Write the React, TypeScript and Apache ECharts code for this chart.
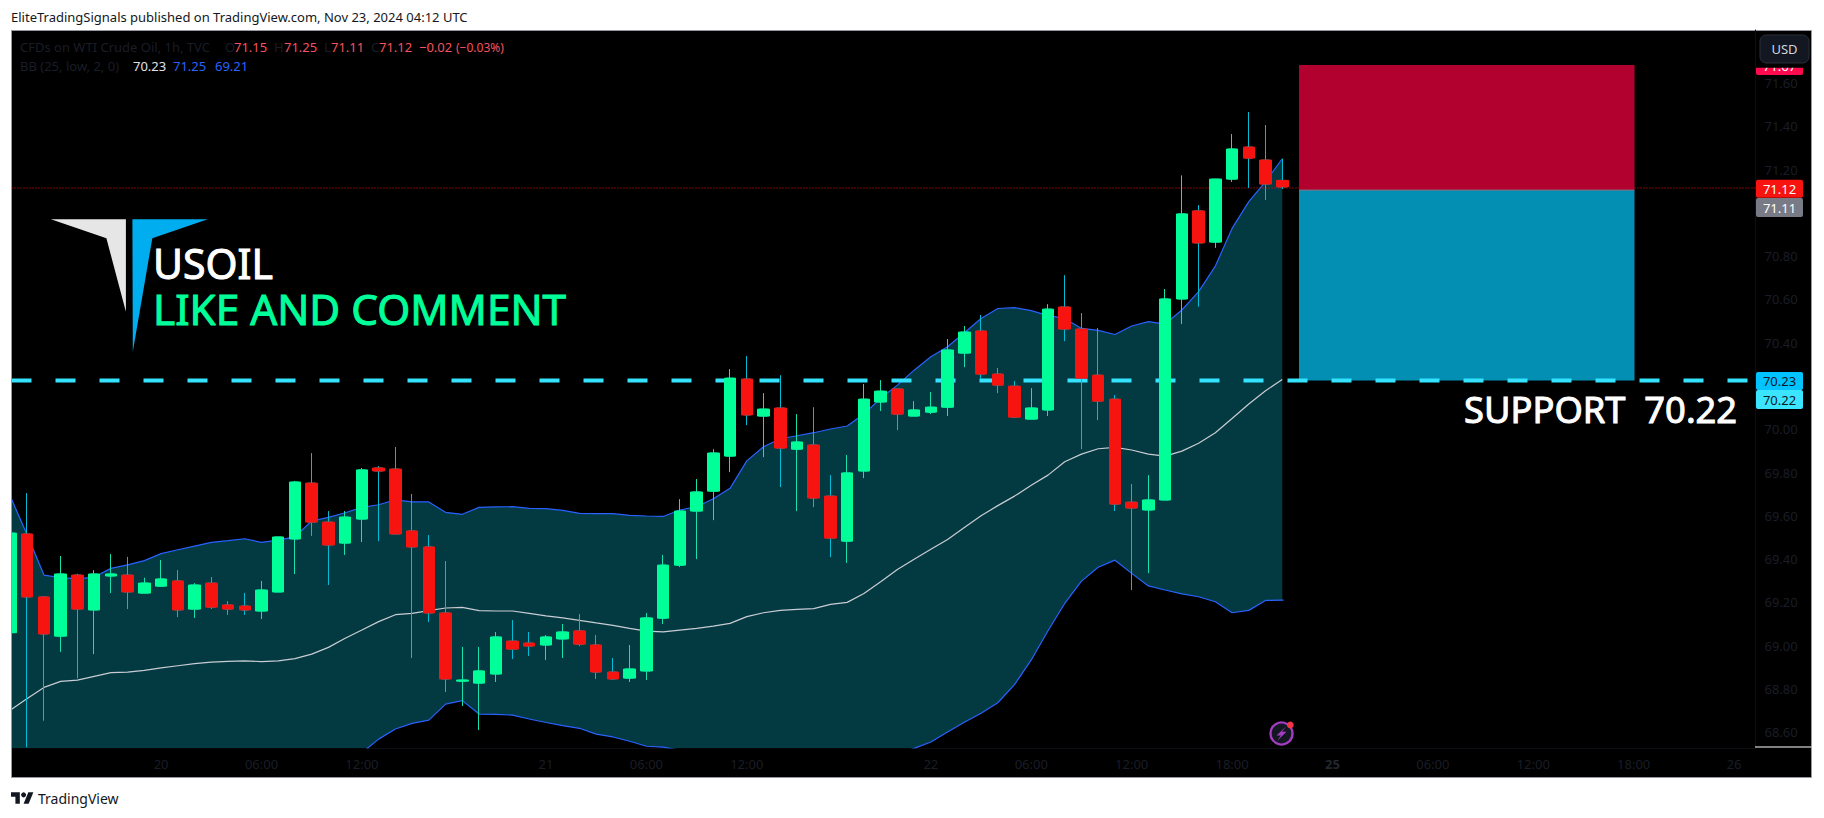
import React, { useEffect, useRef } from "react";
import * as echarts from "echarts";

const opens = [69.06,69.516,69.225,69.044,69.326,69.165,69.322,69.326,69.243,69.275,69.299,69.169,69.289,69.188,69.183,69.16,69.248,69.493,69.751,69.571,69.474,69.585,69.821,69.816,69.53,69.456,69.151,68.836,68.827,68.869,69.021,69.012,69.003,69.031,69.068,69.003,68.878,68.85,68.883,69.127,69.372,69.622,69.714,69.876,70.232,70.061,70.098,69.908,69.927,69.691,69.483,69.807,70.126,70.186,70.061,70.079,70.102,70.352,70.454,70.255,70.199,70.047,70.089,70.565,70.463,70.25,70.139,69.663,69.627,69.673,70.602,71.009,70.865,71.156,71.304,71.244,71.15];
const highs = [69.55,69.705,69.229,69.414,69.332,69.349,69.423,69.41,69.314,69.396,69.349,69.289,69.317,69.206,69.243,69.299,69.502,69.761,69.89,69.622,69.622,69.821,69.83,69.918,69.701,69.511,69.391,68.994,68.994,69.063,69.118,69.063,69.049,69.1,69.146,69.049,68.943,69.003,69.151,69.419,69.677,69.77,69.908,70.278,70.338,70.167,70.25,70.07,70.102,69.788,69.881,70.209,70.227,70.186,70.13,70.172,70.417,70.477,70.528,70.283,70.223,70.19,70.578,70.712,70.537,70.468,70.158,69.747,69.788,70.648,71.173,71.036,71.156,71.364,71.466,71.406,71.25];
const lows = [68.98,68.53,68.653,68.971,68.849,68.961,69.243,69.169,69.243,69.275,69.132,69.128,69.169,69.142,69.142,69.123,69.248,69.331,69.507,69.28,69.419,69.479,69.483,69.516,68.943,69.109,68.786,68.721,68.61,68.832,68.938,68.952,68.934,68.943,68.998,68.846,68.841,68.832,68.841,69.1,69.363,69.4,69.58,69.802,70.019,69.871,69.733,69.622,69.64,69.409,69.382,69.774,70.084,69.996,70.061,70.07,70.061,70.287,70.232,70.167,70.052,70.047,70.061,70.407,69.908,70.042,69.622,69.257,69.335,69.673,70.486,70.566,70.838,71.143,71.115,71.059,71.11];
const closes = [69.52,69.225,69.054,69.331,69.169,69.331,69.331,69.248,69.289,69.308,69.165,69.28,69.178,69.169,69.165,69.257,69.502,69.756,69.571,69.465,69.594,69.812,69.807,69.516,69.456,69.151,68.846,68.841,68.883,69.04,68.984,68.998,69.04,69.063,69.007,68.878,68.846,68.892,69.128,69.372,69.622,69.71,69.89,70.236,70.066,70.093,69.913,69.941,69.682,69.497,69.798,70.139,70.176,70.07,70.089,70.102,70.366,70.449,70.255,70.204,70.056,70.098,70.555,70.463,70.236,70.13,69.654,69.636,69.673,70.602,70.995,70.861,71.156,71.295,71.253,71.133,71.12];

const bbUpper = [69.688,69.511,69.326,69.314,69.309,69.317,69.357,69.373,69.393,69.425,69.443,69.46,69.477,69.485,69.494,69.477,69.488,69.503,69.576,69.593,69.614,69.639,69.651,69.674,69.664,69.664,69.616,69.607,69.639,69.641,69.642,69.634,69.633,69.625,69.611,69.61,69.61,69.602,69.599,69.597,69.627,69.642,69.679,69.727,69.854,69.919,69.956,69.97,69.984,70.001,70.015,70.07,70.143,70.204,70.273,70.335,70.381,70.446,70.512,70.558,70.562,70.548,70.525,70.512,70.466,70.457,70.438,70.477,70.497,70.486,70.551,70.636,70.754,70.928,71.052,71.144,71.25];
const bbMid = [68.703,68.756,68.807,68.835,68.841,68.858,68.875,68.878,68.886,68.897,68.907,68.917,68.924,68.927,68.93,68.926,68.93,68.94,68.961,68.992,69.034,69.072,69.111,69.143,69.149,69.162,69.174,69.177,69.162,69.16,69.16,69.149,69.138,69.128,69.117,69.105,69.094,69.08,69.067,69.064,69.072,69.08,69.09,69.103,69.134,69.152,69.163,69.168,69.171,69.191,69.2,69.241,69.295,69.352,69.399,69.445,69.491,69.546,69.6,69.647,69.691,69.741,69.788,69.85,69.885,69.91,69.916,69.904,69.885,69.876,69.899,69.935,69.984,70.05,70.117,70.178,70.23];
const bbLower = [67.72,68.0,68.29,68.36,68.37,68.4,68.39,68.38,68.38,68.37,68.37,68.37,68.37,68.37,68.37,68.37,68.37,68.38,68.35,68.39,68.45,68.505,68.568,68.615,68.641,68.656,68.73,68.746,68.684,68.682,68.679,68.661,68.645,68.63,68.618,68.591,68.578,68.558,68.535,68.531,68.517,68.518,68.501,68.479,68.414,68.385,68.37,68.366,68.358,68.381,68.385,68.412,68.447,68.5,68.525,68.555,68.601,68.646,68.688,68.736,68.82,68.934,69.069,69.195,69.298,69.362,69.395,69.334,69.276,69.257,69.239,69.226,69.203,69.152,69.163,69.209,69.21];

const priceTicks = [68.6,68.8,69.0,69.2,69.4,69.6,69.8,70.0,70.4,70.6,70.8,71.2,71.4,71.6];
const timeTicks = [9,15,21,32,38,44,55,61,67,73,79,85,91,97,103];
const timeLabels = ["20","06:00","12:00","21","06:00","12:00","22","06:00","12:00","18:00","25","06:00","12:00","18:00","26"];

const supportPrice = 70.225;
const lastPrice = 71.115;
const positionZones = [
  [77, 97.05, 71.683, 71.105],
  [77, 97.05, 71.105, 70.225],
];

const FONT = "'Noto Sans', sans-serif";
const DIM = "#1a1d27";
const GREEN = "#00FF99";
const RED = "#F7130F";
const XMIN = 0.06;
const XMAX = 104.28;

const tag = (y0: number, h: number, fill: string, text: string, color: string) => [
  { type: "rect", z: 50, shape: { x: 1756, y: y0, width: 47, height: h, r: 2 }, style: { fill } },
  { type: "text", z: 51, style: { text, x: 1779.5, y: y0 + h / 2, fill: color, fontSize: 13, fontFamily: FONT, textAlign: "center", verticalAlign: "middle" } },
];

const txt = (x: number, y: number, text: string, fill: string, fontSize = 13) => ({
  type: "text",
  z: 50,
  style: { text, x, y, fill, fontSize, fontFamily: FONT, textAlign: "left", verticalAlign: "middle" },
});

const heavy = (x: number, y: number, text: string, fill: string, fontSize: number) => ({
  type: "text",
  z: 50,
  style: { text, x, y, fill, fontSize, fontFamily: FONT, textAlign: "left", verticalAlign: "middle", lineHeight: 36, stroke: fill, lineWidth: 1 },
});

export default function App() {
  const ref = useRef<HTMLDivElement>(null);
  useEffect(() => {
    const chart = echarts.init(ref.current!, undefined, { renderer: "svg" });
    const idx = opens.map((_, i) => i);
    const last = idx.length - 1;
    const option: any = {
      animation: false,
      backgroundColor: "#ffffff",
      grid: { left: 11.5, top: 30, width: 1744, height: 718, containLabel: false },
      xAxis: {
        type: "value",
        min: XMIN,
        max: XMAX,
        splitLine: { show: false },
        axisTick: { show: false },
        axisLine: { show: true, onZero: false, lineStyle: { color: "#0d0f14", width: 1 } },
        axisLabel: {
          customValues: timeTicks,
          margin: 9,
          fontSize: 13,
          fontFamily: FONT,
          color: DIM,
          hideOverlap: false,
          formatter: (v: number) => {
            const l = timeLabels[timeTicks.indexOf(v)] ?? "";
            return l === "25" ? `{b|${l}}` : l;
          },
          rich: { b: { fontWeight: "bold", fontSize: 13, fontFamily: FONT, color: "#23262f" } },
        },
      },
      yAxis: {
        type: "value",
        position: "right",
        min: 68.527,
        max: 71.845,
        splitLine: { show: false },
        axisTick: { show: false },
        axisLine: { show: true, onZero: false, lineStyle: { color: "#0d0f14", width: 1 } },
        axisLabel: {
          customValues: priceTicks,
          margin: 9,
          fontSize: 13,
          fontFamily: FONT,
          color: DIM,
          formatter: (v: number) => v.toFixed(2),
        },
      },
      series: [
        {
          name: "BB Upper", type: "line", z: 2, symbol: "none", silent: true,
          data: idx.map((i) => [i, bbUpper[i]]),
          lineStyle: { color: "#2962FF", width: 1.2 },
          areaStyle: { color: "#033A42", opacity: 1, origin: "start" },
        },
        {
          name: "BB Lower", type: "line", z: 3, symbol: "none", silent: true,
          data: [...idx.map((i) => [i, bbLower[i]]), [last + 0.08, bbLower[last]]],
          lineStyle: { color: "#2962FF", width: 1.2 },
          areaStyle: { color: "#000000", opacity: 1, origin: "start" },
        },
        {
          name: "BB Basis", type: "line", z: 4, symbol: "none", silent: true,
          data: idx.map((i) => [i, bbMid[i]]),
          lineStyle: { color: "#C9CCD3", width: 1.2 },
        },
        {
          name: "Last price", type: "line", z: 5, symbol: "none", silent: true,
          data: [[XMIN, lastPrice], [XMAX, lastPrice]],
          lineStyle: { color: "#F7130F", width: 1, type: [1, 2] },
        },
        {
          name: "Position", type: "custom", z: 6, silent: true,
          clip: true,
          data: positionZones,
          encode: { x: [0, 1], y: [2, 3] },
          renderItem: (params: any, api: any) => {
            const a = api.coord([api.value(0), api.value(2)]);
            const b = api.coord([api.value(1), api.value(3)]);
            const isTarget = params.dataIndex === 0;
            return {
              type: "rect",
              shape: { x: a[0], y: a[1], width: b[0] - a[0], height: b[1] - a[1] },
              style: { fill: isTarget ? "#B2002F" : "#028FB3" },
            };
          },
        },
        {
          name: "Entry", type: "line", z: 7, symbol: "none", silent: true,
          data: [[positionZones[1][0], positionZones[1][2]], [positionZones[1][1], positionZones[1][2]]],
          lineStyle: { color: "#7b8794", width: 1 },
        },
        {
          name: "Support", type: "line", z: 7, symbol: "none", silent: true,
          data: [[XMIN, supportPrice], [XMAX, supportPrice]],
          lineStyle: { color: "#33E3FF", width: 4, type: [20, 24] },
        },
        {
          name: "Wicks", type: "candlestick", z: 8, silent: true, barWidth: 8,
          data: idx.map((i) => [i, opens[i], closes[i], lows[i], highs[i]]),
          itemStyle: { color: "#14E0B0", color0: "#00BCD4", borderColor: "#14E0B0", borderColor0: "#00BCD4", borderWidth: 1 },
        },
        {
          name: "CFDs on WTI Crude Oil", type: "candlestick", z: 9, silent: true, barWidth: 12,
          data: idx.map((i) => [i, opens[i], closes[i], Math.min(opens[i], closes[i]), Math.max(opens[i], closes[i])]),
          itemStyle: { color: GREEN, color0: RED, borderColor: GREEN, borderColor0: RED, borderWidth: 1 },
        },
      ],
      graphic: [
        // page frame
        { type: "rect", z: -5, shape: { x: 11.5, y: 30.5, width: 1800, height: 747 }, style: { fill: "#000", stroke: "#9598A1", lineWidth: 1 } },
        // the first candle is cut by the chart's left edge
        { type: "rect", z: 45, shape: { x: 0, y: 30, width: 11, height: 748 }, style: { fill: "#FFFFFF" } },
        { type: "line", z: 46, shape: { x1: 11.5, y1: 30, x2: 11.5, y2: 778 }, style: { stroke: "#9598A1", lineWidth: 1 } },
        txt(11, 17, "EliteTradingSignals published on TradingView.com, Nov 23, 2024 04:12 UTC", "#131722", 13),
        // footer logo
        { type: "group", z: 50, x: 11, y: 789.8, scaleX: 0.63, scaleY: 0.63, children: [
          { type: "polygon", z: 50, shape: { points: [[14,22],[7,22],[7,11],[0,11],[0,4],[14,4]] }, style: { fill: "#131722" } },
          { type: "polygon", z: 50, shape: { points: [[28,22],[20,22],[27.5,4],[35.5,4]] }, style: { fill: "#131722" } },
          { type: "circle", z: 50, shape: { cx: 20, cy: 8, r: 4 }, style: { fill: "#131722" } },
        ] },
        txt(38, 798.5, "TradingView", "#131722", 14),
        // legend
        txt(20, 47, "CFDs on WTI Crude Oil, 1h, TVC", DIM),
        txt(225, 47, "O", DIM), txt(234, 47, "71.15", "#F7525F"),
        txt(274, 47, "H", DIM), txt(284, 47, "71.25", "#F7525F"),
        txt(324, 47, "L", DIM), txt(331, 47, "71.11", "#F7525F"),
        txt(371, 47, "C", DIM), txt(379, 47, "71.12", "#F7525F"),
        txt(419, 47, "−0.02", "#F7525F"), txt(456, 47, "(−0.03%)", "#F7525F", 12),
        txt(20, 66, "BB (25, low, 2, 0)", DIM),
        txt(133, 66, "70.23", "#E0E3EB"), txt(173, 66, "71.25", "#2962FF"), txt(215, 66, "69.21", "#2962FF"),
        // brand mark
        { type: "polygon", z: 40, shape: { points: [[50.9,219.3],[125.9,219.3],[125.9,311.7],[106.4,238.3]] }, style: { fill: "#E6E6E6" } },
        { type: "polygon", z: 40, shape: { points: [[132.4,219.3],[207.8,219.3],[152.3,238.3],[132.8,351.7]] }, style: { fill: "#00AEEF" } },
        heavy(153, 263, "USOIL", "#FFFFFF", 41),
        heavy(153, 308, "LIKE AND COMMENT", "#00FF99", 42.3),
        heavy(1464, 409, "SUPPORT  70.22", "#FFFFFF", 36.3),
        // price scale overlays
        ...tag(56, 19, "#FF0A4E", "71.67", "#FFFFFF"),
        { type: "rect", z: 52, shape: { x: 1756, y: 47, width: 55, height: 20.7 }, style: { fill: "#000" } },
        { type: "rect", z: 53, shape: { x: 1760, y: 35, width: 49, height: 28, r: 6 }, style: { fill: "#131722", stroke: "#2A2E39", lineWidth: 1 } },
        { type: "text", z: 54, style: { text: "USD", x: 1784.5, y: 49, fill: "#D1D4DC", fontSize: 13, fontFamily: FONT, textAlign: "center", verticalAlign: "middle" } },
        ...tag(179.7, 18, RED, "71.12", "#FFFFFF"),
        ...tag(198, 19, "#787B86", "71.11", "#FFFFFF"),
        ...tag(372, 18, "#00C3FF", "70.23", "#131722"),
        ...tag(390, 19, "#3CE5FF", "70.22", "#131722"),
        { type: "line", z: 50, shape: { x1: 1755, y1: 747, x2: 1811.5, y2: 747 }, style: { stroke: "#FFFFFF", lineWidth: 1.2 } },
        // flash icon
        { type: "circle", z: 50, shape: { cx: 1281.5, cy: 733.5, r: 11 }, style: { fill: "#131722", stroke: "#A33CC0", lineWidth: 2.4 } },
        { type: "polygon", z: 51, shape: { points: [[1286,726.5],[1276.5,735.5],[1280.8,735.5],[1277,741],[1286.5,731.8],[1282,731.8]] }, style: { fill: "#A33CC0" } },
        { type: "circle", z: 52, shape: { cx: 1290.3, cy: 725, r: 3.4 }, style: { fill: "#F23645" } },
      ],
    };
    chart.setOption(option);
    return () => chart.dispose();
  }, []);
  return <div ref={ref} style={{ position: "absolute", left: 0, top: 0, width: 1824, height: 818 }} />;
}
